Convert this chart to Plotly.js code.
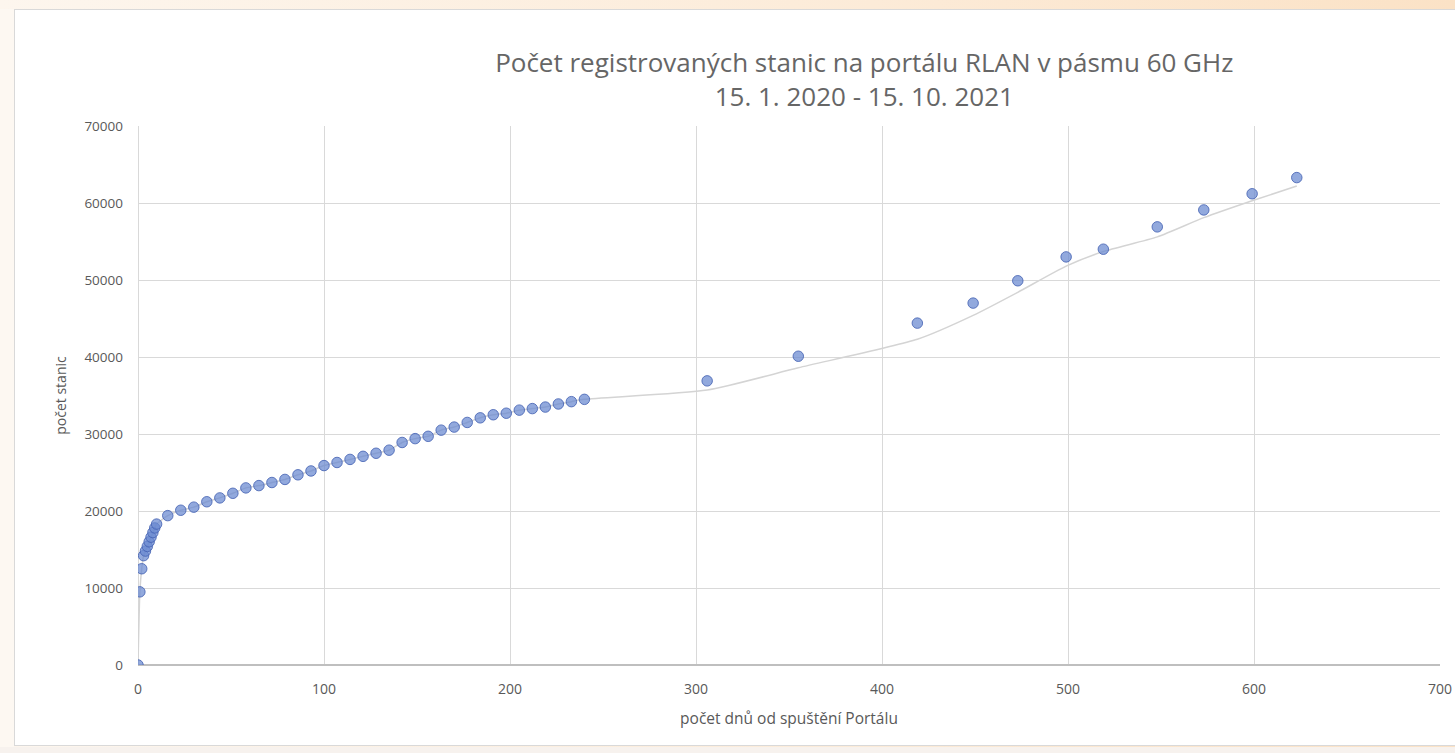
<!DOCTYPE html>
<html>
<head>
<meta charset="utf-8">
<script src="https://cdn.plot.ly/plotly-3.0.1.min.js"></script>
<style>
  html, body { margin:0; padding:0; width:1455px; height:753px; overflow:hidden; }
  body { background: linear-gradient(90deg, #fdf6ee 0%, #fcebd8 60%, #fbe2c6 100%); position:relative; }
  #side { position:absolute; left:0; top:9px; width:14px; height:744px; background:#fdf8f2; }
  #bottom { position:absolute; left:0; top:747px; width:1455px; height:6px; background:#f7f2ee; }
  #card { position:absolute; left:14px; top:9px; width:1450px; height:737px; background:#ffffff; border:1px solid #d9d9d9; box-sizing:border-box; }
  #chart { position:absolute; left:0; top:0; width:1455px; height:753px; }
</style>
</head>
<body>
<div id="side"></div>
<div id="bottom"></div>
<div id="card"></div>
<div id="chart"></div>
<script>
const days = [0,1,2,3,4,5,6,7,8,9,10,16,23,30,37,44,51,58,65,72,79,86,93,100,107,114,121,128,135,142,149,156,163,170,177,184,191,198,205,212,219,226,233,240,306,355,419,449,473,499,519,548,573,599,623];
const stations = [0,9500,12500,14200,14800,15400,16000,16600,17200,17800,18300,19400,20100,20500,21200,21700,22300,23000,23300,23700,24100,24700,25200,25900,26300,26700,27100,27500,27900,28900,29400,29700,30500,30900,31500,32100,32500,32700,33100,33300,33500,33900,34200,34500,36900,40100,44400,47000,49900,53000,54000,56900,59100,61200,63300];
const trendLine = [0,9500,12500,14200,14800,15400,16000,16600,17200,17800,18300,19400,20100,20500,21200,21700,22300,23000,23300,23700,24100,24700,25200,25900,26300,26700,27100,27500,27900,28900,29400,29700,30500,30900,31500,32100,32500,32700,33100,33300,33500,33900,34200,34500,35700,38600,42300,45400,48400,51800,53700,55600,58100,60300,62200];

const titleLines = ["Počet registrovaných stanic na portálu RLAN v pásmu 60 GHz", "15. 1. 2020 - 15. 10. 2021"];
const xTitle = "počet dnů od spuštění Portálu";
const yTitle = "počet stanic";

const fontFam = "Open Sans, sans-serif";
const grey = "#595959";

const traces = [
  { x: days, y: trendLine, type: "scatter", mode: "lines",
    line: { color: "#d4d4d4", width: 1.5, shape: "spline", smoothing: 0.6 },
    hoverinfo: "skip", showlegend: false },
  { x: days, y: stations, type: "scatter", mode: "markers",
    marker: { size: 10.5, color: "rgba(104,136,208,0.72)", line: { color: "rgba(70,100,180,0.85)", width: 1 } },
    showlegend: false }
];

const layout = {
  width: 1455, height: 753,
  paper_bgcolor: "rgba(0,0,0,0)", plot_bgcolor: "rgba(0,0,0,0)",
  margin: { l: 138, r: 15, t: 126, b: 88 },
  font: { family: fontFam, color: grey },
  title: { text: titleLines.join("<br>"), font: { family: fontFam, size: 26, color: "#666666" },
           x: 0.594, xanchor: "center", xref: "container", y: 1 - 72/753, yanchor: "top", yref: "container" },
  xaxis: {
    range: [0, 700], tickvals: [0,100,200,300,400,500,600,700], ticks: "",
    ticklabelstandoff: 14,
    showgrid: true, gridcolor: "#d9d9d9", gridwidth: 1,
    zeroline: true, zerolinecolor: "#d9d9d9", zerolinewidth: 1,
    showline: false, tickfont: { size: 14, color: grey, family: fontFam },
    title: { text: xTitle, font: { size: 15.5, color: grey, family: fontFam }, standoff: 16 },
    fixedrange: true
  },
  yaxis: {
    range: [0, 70000], dtick: 10000, ticks: "", tickformat: "d",
    ticklabelstandoff: 14,
    showgrid: true, gridcolor: "#d9d9d9", gridwidth: 1,
    zeroline: true, zerolinecolor: "#bfbfbf", zerolinewidth: 1.5,
    showline: false, tickfont: { size: 13.5, color: grey, family: fontFam },
    title: { text: yTitle, font: { size: 14, color: grey, family: fontFam }, standoff: 14 },
    fixedrange: true
  },
  showlegend: false
};

Plotly.newPlot("chart", traces, layout, { displayModeBar: false, staticPlot: true });
</script>
</body>
</html>
